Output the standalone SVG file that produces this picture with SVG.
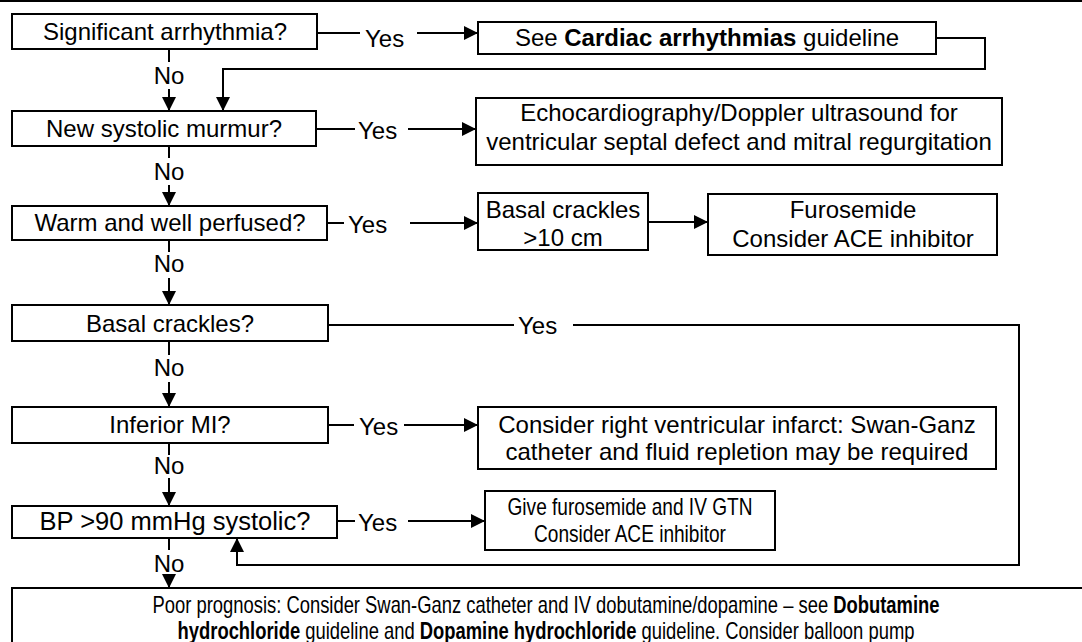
<svg xmlns="http://www.w3.org/2000/svg" width="1082" height="642" viewBox="0 0 1082 642">
<defs>
<marker id="ah" markerUnits="userSpaceOnUse" markerWidth="14" markerHeight="14" refX="14" refY="7" orient="auto" viewBox="0 0 14 14">
<path d="M0,0 L14,7 L0,14 z" fill="#000"/>
</marker>
</defs>
<style>
.box{fill:#fff;stroke:#000;stroke-width:2}
.ln{fill:none;stroke:#000;stroke-width:2}
.ar{fill:none;stroke:#000;stroke-width:2;marker-end:url(#ah)}
text{font-family:"Liberation Sans",Arial,Helvetica,sans-serif;font-size:24px;fill:#000}
.c{text-anchor:middle}
.b{font-weight:bold}
.s{font-size:23px}
.m{font-size:23px}
.l{font-size:25.5px}
</style>
<rect width="1082" height="642" fill="#fff"/>
<line x1="0" y1="1" x2="1082" y2="1" class="ln"/>

<g id="connectors">
<line x1="317" y1="33" x2="360" y2="33" class="ln"/>
<text x="365" y="47">Yes</text>
<line x1="417" y1="33" x2="478" y2="33" class="ar"/>
<polyline points="936,38 985,38 985,69 223,69 223,111" class="ar"/>
<line x1="169" y1="49" x2="169" y2="62" class="ln"/>
<text x="169" y="84" class="c">No</text>
<line x1="169" y1="89" x2="169" y2="111" class="ar"/>

<line x1="316" y1="129" x2="355" y2="129" class="ln"/>
<text x="358" y="139">Yes</text>
<line x1="408" y1="129" x2="476" y2="129" class="ar"/>
<line x1="169" y1="146" x2="169" y2="158" class="ln"/>
<text x="169" y="180" class="c">No</text>
<line x1="169" y1="185" x2="169" y2="206" class="ar"/>

<line x1="327" y1="223" x2="344" y2="223" class="ln"/>
<text x="348" y="233">Yes</text>
<line x1="410" y1="223" x2="478" y2="223" class="ar"/>
<line x1="648" y1="222" x2="708" y2="222" class="ar"/>
<line x1="169" y1="240" x2="169" y2="252" class="ln"/>
<text x="169" y="272" class="c">No</text>
<line x1="169" y1="278" x2="169" y2="305" class="ar"/>

<line x1="328" y1="325" x2="514" y2="325" class="ln"/>
<text x="518" y="334">Yes</text>
<polyline points="573,325 1019,325 1019,565 237,565 237,538" class="ar"/>
<line x1="169" y1="341" x2="169" y2="355" class="ln"/>
<text x="169" y="376" class="c">No</text>
<line x1="169" y1="382" x2="169" y2="407" class="ar"/>

<line x1="328" y1="425" x2="354" y2="425" class="ln"/>
<text x="359" y="435">Yes</text>
<line x1="404" y1="425" x2="478" y2="425" class="ar"/>
<line x1="169" y1="443" x2="169" y2="455" class="ln"/>
<text x="169" y="474" class="c">No</text>
<line x1="169" y1="478" x2="169" y2="506" class="ar"/>

<line x1="337" y1="521" x2="355" y2="521" class="ln"/>
<text x="358" y="531">Yes</text>
<line x1="408" y1="521" x2="485" y2="521" class="ar"/>
<line x1="169" y1="538" x2="169" y2="550" class="ln"/>
<text x="169" y="572" class="c">No</text>
<line x1="169" y1="577" x2="169" y2="588" class="ar"/>
</g>

<g id="n-arrhythmia">
<rect x="12" y="14" width="305" height="35" class="box"/>
<text x="165" y="40" class="c">Significant arrhythmia?</text>
</g>
<g id="n-cardiac">
<rect x="478" y="22" width="458" height="32" class="box"/>
<text x="707" y="46" class="c">See <tspan class="b">Cardiac arrhythmias</tspan> guideline</text>
</g>
<g id="n-murmur">
<rect x="12" y="111" width="304" height="35" class="box"/>
<text x="164" y="137" class="c">New systolic murmur?</text>
</g>
<g id="n-echo">
<rect x="476" y="98" width="526" height="67" class="box"/>
<text x="739" y="121" class="c">Echocardiography/Doppler ultrasound for</text>
<text x="739" y="150" class="c">ventricular septal defect and mitral regurgitation</text>
</g>
<g id="n-warm">
<rect x="12" y="206" width="315" height="34" class="box"/>
<text x="170" y="231" class="c">Warm and well perfused?</text>
</g>
<g id="n-crackles10">
<rect x="478" y="193" width="170" height="57" class="box"/>
<text x="563" y="218" class="c">Basal crackles</text>
<text x="563" y="246" class="c">&gt;10 cm</text>
</g>
<g id="n-furosemide">
<rect x="708" y="194" width="289" height="61" class="box"/>
<text x="853" y="218" class="c">Furosemide</text>
<text x="853" y="247" class="c">Consider ACE inhibitor</text>
</g>
<g id="n-basal">
<rect x="12" y="305" width="316" height="36" class="box"/>
<text x="170" y="332" class="c">Basal crackles?</text>
</g>
<g id="n-inferior">
<rect x="12" y="407" width="316" height="36" class="box"/>
<text x="170" y="433" class="c">Inferior MI?</text>
</g>
<g id="n-rv">
<rect x="478" y="407" width="518" height="62" class="box"/>
<text x="737" y="433" class="c">Consider right ventricular infarct: Swan-Ganz</text>
<text x="737" y="460" class="c">catheter and fluid repletion may be required</text>
</g>
<g id="n-bp">
<rect x="12" y="506" width="325" height="32" class="box"/>
<text x="175" y="530" class="c l">BP &gt;90 mmHg systolic?</text>
</g>
<g id="n-gtn">
<rect x="485" y="491" width="290" height="59" class="box"/>
<text transform="translate(630,515) scale(0.83,1)" class="c m">Give furosemide and IV GTN</text>
<text transform="translate(630,542) scale(0.83,1)" class="c m">Consider ACE inhibitor</text>
</g>
<g id="n-poor">
<rect x="12" y="588" width="1080" height="70" class="box"/>
<text transform="translate(546,613) scale(0.8,1)" class="c s">Poor prognosis: Consider Swan-Ganz catheter and IV dobutamine/dopamine – see <tspan class="b">Dobutamine</tspan></text>
<text transform="translate(546,639) scale(0.8,1)" class="c s"><tspan class="b">hydrochloride</tspan> guideline and <tspan class="b">Dopamine hydrochloride</tspan> guideline. Consider balloon pump</text>
</g>
</svg>
